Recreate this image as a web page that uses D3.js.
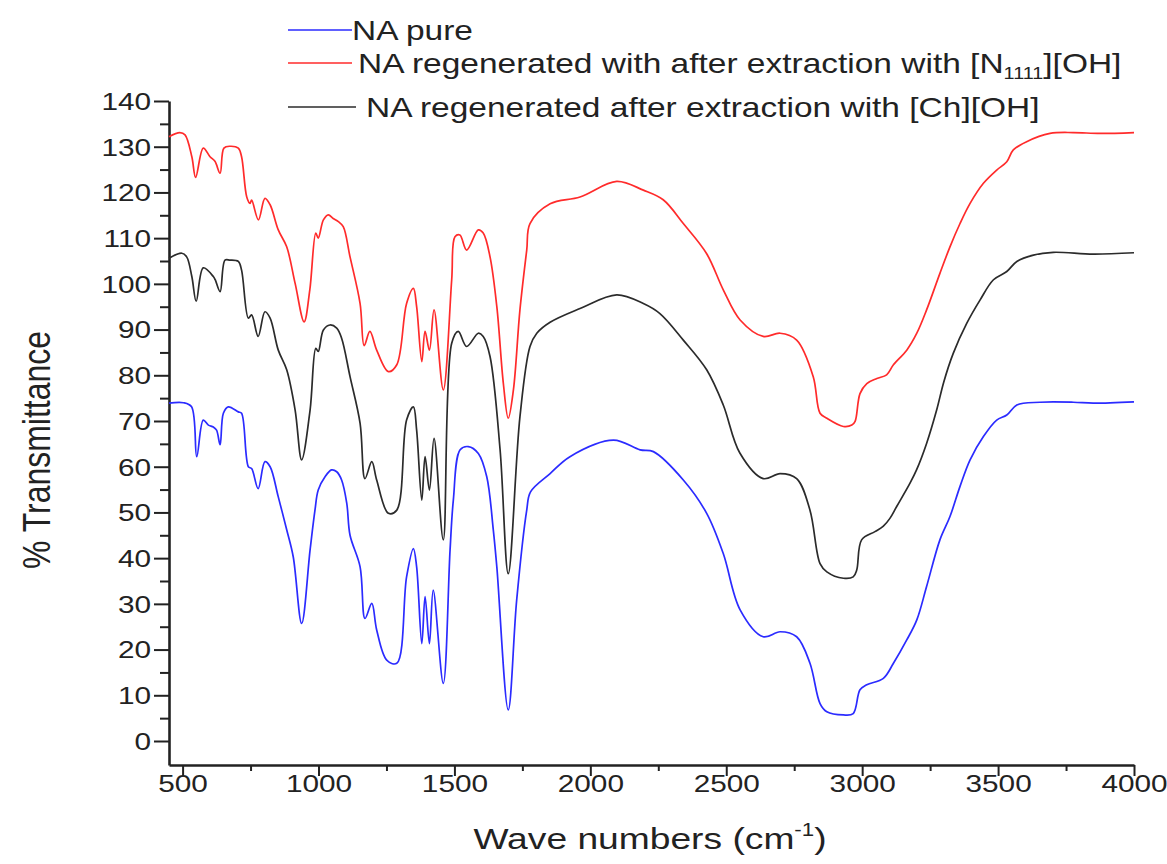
<!DOCTYPE html>
<html>
<head>
<meta charset="utf-8">
<script src="https://cdnjs.cloudflare.com/ajax/libs/d3/7.8.5/d3.min.js"></script>
<style>
  body { margin: 0; background: #fff; }
  text { font-family: Arial, "Liberation Sans", sans-serif; fill: #222; }
  .axis path, .axis line { stroke: #222; }
</style>
</head>
<body>
<div id="chart"></div>
<script>
// FTIR spectra, [wavenumber (cm-1), % transmittance]
const naPure = [
  [450,73.9],[503,74.0],[533,73.1],[552,62.2],[576,70.2],[595,69.1],[613,68.7],[625,68.0],[638,64.8],
  [650,71.7],[668,73.1],[705,72.0],[717,71.7],[742,60.0],[754,59.6],[778,55.2],[803,61.1],[822,60.0],
  [852,53.4],[883,46.2],[907,40.3],[938,25.7],[969,41.8],[987,50.5],[999,54.9],[1024,57.8],[1048,59.3],
  [1067,58.9],[1085,57.1],[1104,52.0],[1116,45.0],[1153,38.1],[1171,26.8],[1196,30.1],[1214,24.3],
  [1251,17.7],[1288,17.0],[1324,35.9],[1349,42.1],[1361,38.1],[1380,21.3],[1392,31.6],[1408,21.3],
  [1422,33.0],[1459,12.6],[1484,41.8],[1496,52.7],[1521,63.7],[1551,64.4],[1588,62.9],[1619,57.8],
  [1643,46.2],[1656,38.1],[1698,6.8],[1729,30.8],[1766,50.5],[1780,54.5],[1852,58.5],[1925,62.2],
  [2085,65.8],[2183,63.7],[2232,63.3],[2342,57.1],[2428,49.8],[2489,41.0],[2551,28.7],[2636,22.8],
  [2698,23.9],[2759,22.8],[2808,17.0],[2845,8.2],[2870,6.4],[2931,5.7],[2967,6.0],[2992,11.2],
  [3017,12.3],[3078,13.7],[3115,17.0],[3164,22.1],[3201,26.5],[3237,33.8],[3286,44.0],[3323,49.1],
  [3360,55.7],[3397,61.5],[3446,66.6],[3495,70.2],[3532,71.3],[3569,73.5],[3654,74.1],[3777,74.1],
  [3850,73.9],[4000,74.2]
];

const naN1111 = [
  [450,132.2],[490,133.1],[509,132.6],[534,127.8],[548,123.3],[576,129.7],[601,127.8],[619,126.8],
  [638,124.2],[652,129.7],[674,130.1],[705,129.7],[717,127.8],[736,119.0],[748,117.6],[754,118.3],
  [779,114.0],[803,118.7],[822,117.3],[852,111.8],[883,108.1],[914,100.1],[947,91.7],[968,98.7],
  [990,111.1],[999,110.0],[1018,114.0],[1036,115.1],[1054,114.3],[1073,113.6],[1091,112.5],[1116,105.9],
  [1153,95.7],[1168,86.5],[1189,89.6],[1214,85.5],[1257,80.8],[1288,82.3],[1324,95.7],[1349,99.0],
  [1361,95.0],[1380,83.0],[1392,89.6],[1408,85.5],[1425,94.3],[1459,76.8],[1490,100.9],[1502,110.3],
  [1520,110.7],[1545,107.4],[1588,111.8],[1606,111.1],[1631,105.9],[1656,95.0],[1680,78.2],[1698,70.6],
  [1717,76.8],[1741,94.3],[1766,107.4],[1778,113.2],[1852,117.5],[1962,119.0],[2097,122.4],[2195,120.5],
  [2268,118.4],[2342,113.2],[2428,106.6],[2489,98.7],[2551,92.1],[2636,88.5],[2698,89.2],[2759,87.7],
  [2820,79.7],[2845,71.7],[2870,70.6],[2931,68.8],[2962,69.1],[2974,69.9],[2992,76.0],[3017,78.2],
  [3054,79.3],[3090,80.1],[3115,82.3],[3164,85.5],[3201,89.2],[3237,94.3],[3286,102.3],[3323,108.1],
  [3360,113.2],[3397,117.6],[3446,122.0],[3495,124.9],[3532,126.7],[3556,129.3],[3605,131.1],[3691,132.9],
  [3777,133.1],[3875,132.9],[4000,133.1]
];

const naCh = [
  [450,105.6],[497,106.7],[515,105.9],[534,101.6],[550,96.2],[576,103.5],[613,101.6],[620,100.9],
  [638,98.3],[656,105.2],[674,105.2],[705,104.9],[717,103.0],[742,92.5],[754,93.2],[778,88.5],
  [803,93.9],[822,92.5],[852,85.5],[883,81.2],[914,72.4],[938,61.5],[969,72.4],[990,85.9],[999,85.2],
  [1018,89.9],[1042,91.0],[1067,90.3],[1085,88.1],[1116,79.7],[1153,69.5],[1171,57.4],[1196,61.1],
  [1214,57.1],[1257,49.8],[1288,50.5],[1324,70.2],[1349,73.1],[1361,68.0],[1380,52.7],[1392,62.2],
  [1408,54.9],[1425,66.2],[1459,44.0],[1490,87.0],[1514,89.6],[1545,86.3],[1588,89.2],[1606,88.5],
  [1631,84.1],[1668,63.7],[1698,36.6],[1741,70.9],[1778,86.3],[1803,89.2],[1852,91.6],[1962,94.6],
  [2097,97.6],[2195,95.7],[2256,93.5],[2342,87.7],[2428,81.2],[2489,73.5],[2550,63.0],
  [2636,57.4],[2698,58.5],[2759,57.4],[2808,50.5],[2845,38.8],[2870,37.0],[2931,35.6],[2967,35.9],
  [2980,37.4],[2998,44.0],[3047,45.8],[3078,47.0],[3102,48.7],[3127,51.3],[3176,56.4],[3200,59.3],
  [3237,65.1],[3274,72.4],[3300,78.5],[3335,84.8],[3385,91.4],[3434,96.5],[3483,100.9],[3532,102.7],
  [3569,104.9],[3630,106.3],[3703,106.9],[3850,106.5],[4000,106.8]
];

const xMajor = [500, 1000, 1500, 2000, 2500, 3000, 3500, 4000];
const xMinor = [750, 1250, 1750, 2250, 2750, 3250, 3750];
const yMajor = [0, 10, 20, 30, 40, 50, 60, 70, 80, 90, 100, 110, 120, 130, 140];
const yMinor = [5, 15, 25, 35, 45, 55, 65, 75, 85, 95, 105, 115, 125, 135];

const series = [
  {data: naPure,  color: "#2b2bff", label: ["NA pure"]},
  {data: naN1111, color: "#ff2b2b", label: ["NA regenerated with after extraction with [N", "1111", "][OH]"]},
  {data: naCh,    color: "#2b2b2b", label: ["NA regenerated after extraction with [Ch][OH]"]}
];

const width = 1167, height = 864;
const margin = {top: 101, right: 33, bottom: 99, left: 169};
const stretch = 1.24; // the original picture is a bit wider than tall

const svg = d3.select("#chart").append("svg")
  .attr("width", width)
  .attr("height", height);

const x = d3.scaleLinear().domain([450, 4000]).range([margin.left, width - margin.right]);
const y = d3.scaleLinear().domain([-5.25, 140]).range([height - margin.bottom, margin.top]);

// minor ticks first, majors over them
svg.append("g")
  .attr("class", "axis")
  .attr("transform", `translate(0,${y.range()[0]})`)
  .call(d3.axisBottom(x).tickValues(xMinor).tickSize(6).tickSizeOuter(0).tickFormat(""))
  .call(g => g.select(".domain").remove())
  .selectAll("line").attr("stroke-width", 2);

svg.append("g")
  .attr("class", "axis")
  .attr("transform", `translate(${x.range()[0]},0)`)
  .call(d3.axisLeft(y).tickValues(yMinor).tickSize(9).tickSizeOuter(0).tickFormat(""))
  .call(g => g.select(".domain").remove())
  .selectAll("line").attr("stroke-width", 2);

const xAxis = svg.append("g")
  .attr("class", "axis")
  .attr("transform", `translate(0,${y.range()[0]})`)
  .call(d3.axisBottom(x).tickValues(xMajor).tickSize(11).tickSizeOuter(0).tickFormat(d3.format("d")));

xAxis.select(".domain").attr("stroke-width", 2.6);
xAxis.selectAll("line").attr("stroke-width", 2);
xAxis.selectAll("text")
  .attr("y", 0).attr("dy", 0)
  .attr("font-size", 24)
  .attr("transform", `translate(0,27) scale(${stretch},1)`);

const yAxis = svg.append("g")
  .attr("class", "axis")
  .attr("transform", `translate(${x.range()[0]},0)`)
  .call(d3.axisLeft(y).tickValues(yMajor).tickSize(15).tickSizeOuter(0).tickFormat(d3.format("d")));

yAxis.select(".domain").attr("stroke-width", 2.6);
yAxis.selectAll("line").attr("stroke-width", 2);
yAxis.selectAll("text")
  .attr("x", 0).attr("dy", "0.35em")
  .attr("font-size", 24)
  .attr("transform", `translate(-18,0) scale(${stretch},1)`);

// spectra
const line = d3.line()
  .x(d => x(d[0]))
  .y(d => y(d[1]))
  .curve(d3.curveCatmullRom.alpha(0.5));

svg.append("g")
  .selectAll("path")
  .data(series)
  .join("path")
  .attr("fill", "none")
  .attr("stroke", d => d.color)
  .attr("stroke-width", 1.7)
  .attr("stroke-linejoin", "round")
  .attr("d", d => line(d.data));

// legend
const legendY = [30, 63, 107];
const legendTextX = [352, 358, 366];
const legendLineEnd = [352, 352, 356];

const legend = svg.append("g")
  .selectAll("g")
  .data(series)
  .join("g");

legend.append("line")
  .attr("x1", 288).attr("x2", (d, i) => legendLineEnd[i])
  .attr("y1", (d, i) => legendY[i]).attr("y2", (d, i) => legendY[i])
  .attr("stroke", d => d.color)
  .attr("stroke-width", 1.7);

legend.append("g")
  .attr("transform", (d, i) => `translate(${legendTextX[i]},${legendY[i] + 10}) scale(${stretch},1)`)
  .append("text")
  .attr("font-size", 27)
  .each(function (d) {
    const t = d3.select(this);
    t.append("tspan").text(d.label[0]);
    if (d.label.length > 1) {
      t.append("tspan").attr("font-size", 16).attr("dy", 6).text(d.label[1]);
      t.append("tspan").attr("dy", -6).text(d.label[2]);
    }
  });

// axis titles
const xTitle = svg.append("g")
  .attr("transform", `translate(650,849) scale(${stretch},1)`)
  .append("text")
  .attr("text-anchor", "middle")
  .attr("font-size", 30);
xTitle.append("tspan").text("Wave numbers (cm");
xTitle.append("tspan").attr("font-size", 18).attr("dy", -13).text("-1");
xTitle.append("tspan").attr("dy", 13).text(")");

svg.append("g")
  .attr("transform", `translate(50,450) scale(${stretch},1)`)
  .append("text")
  .attr("transform", "rotate(-90)")
  .attr("text-anchor", "middle")
  .attr("font-size", 32)
  .text("% Transmittance");
</script>
</body>
</html>
